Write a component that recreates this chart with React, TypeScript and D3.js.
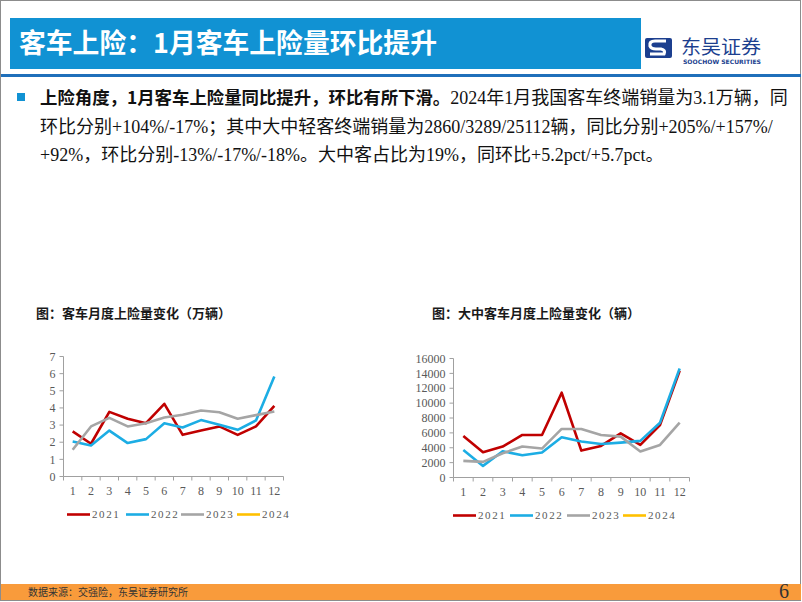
import React from "react";
import * as d3 from "d3";

// months on the x axis
const months = ["1", "2", "3", "4", "5", "6", "7", "8", "9", "10", "11", "12"];
const years = ["2021", "2022", "2023", "2024"];
const yearColors = ["#C00000", "#1CADE4", "#A5A5A5", "#FFC000"];

// 客车月度上险量（万辆）
const bus2021 = [2.63, 1.91, 3.77, 3.37, 3.11, 4.24, 2.43, 2.68, 2.92, 2.43, 2.92, 4.12];
const bus2022 = [2.04, 1.81, 2.68, 1.95, 2.18, 3.11, 2.86, 3.29, 3.02, 2.72, 3.27, 5.84];
const bus2023 = [1.56, 2.92, 3.42, 2.92, 3.11, 3.44, 3.6, 3.85, 3.75, 3.37, 3.58, 3.79];
const bus2024: number[] = [];
const busTicks = [0, 1, 2, 3, 4, 5, 6, 7];

// 大中客车月度上险量（辆）
const big2021 = [5590, 3400, 4160, 5720, 5720, 11400, 3620, 4250, 5940, 4380, 7060, 14350];
const big2022 = [3710, 1560, 3530, 2990, 3350, 5410, 4830, 4510, 4690, 4920, 7370, 14660];
const big2023 = [2230, 2100, 3260, 4160, 3890, 6530, 6530, 5720, 5500, 3490, 4380, 7370];
const big2024: number[] = [];
const bigTicks = [0, 2000, 4000, 6000, 8000, 10000, 12000, 14000, 16000];

const serif = "'Liberation Serif', 'Noto Sans CJK SC', serif";
const cjk = "'Noto Sans CJK SC', sans-serif";

type ChartProps = {
  left: number;
  right: number;
  top: number;
  bottom: number;
  series: number[][];
  ticks: number[];
  legendX: number[];
};

const LineChart = ({ left, right, top, bottom, series, ticks, legendX }: ChartProps) => {
  const x = d3.scaleBand().domain(months).range([left, right]).padding(0);
  const y = d3.scaleLinear().domain([0, ticks[ticks.length - 1]]).range([bottom, top]);
  const line = d3
    .line<number>()
    .x((_, i) => (x(months[i]) as number) + x.bandwidth() / 2)
    .y((d) => y(d));
  const axisColor = "#a0a0a0";
  const boundaries = months.map((m) => x(m) as number).concat([right]);

  return (
    <g>
      {/* y axis */}
      <line x1={left} x2={left} y1={top} y2={bottom} stroke={axisColor} />
      {ticks.map((t) => (
        <g key={t}>
          <line x1={left - 4} x2={left} y1={y(t)} y2={y(t)} stroke={axisColor} />
          <text
            x={left - 8}
            y={y(t)}
            dy="0.35em"
            textAnchor="end"
            fontFamily={serif}
            fontSize={12}
            fill="#595959"
          >
            {t}
          </text>
        </g>
      ))}
      {/* x axis */}
      <line x1={left} x2={right} y1={bottom} y2={bottom} stroke={axisColor} />
      {boundaries.map((b, i) => (
        <line key={i} x1={b} x2={b} y1={bottom} y2={bottom + 4} stroke={axisColor} />
      ))}
      {months.map((m) => (
        <text
          key={m}
          x={(x(m) as number) + x.bandwidth() / 2}
          y={bottom + 18}
          textAnchor="middle"
          fontFamily={serif}
          fontSize={12}
          fill="#595959"
        >
          {m}
        </text>
      ))}
      {/* lines */}
      {series.map((s, i) =>
        s.length > 1 ? (
          <path
            key={years[i]}
            d={line(s) || ""}
            fill="none"
            stroke={yearColors[i]}
            strokeWidth={2.6}
            strokeLinejoin="round"
          />
        ) : null
      )}
      {/* legend */}
      {years.map((yr, i) => (
        <g key={yr}>
          <line
            x1={legendX[i]}
            x2={legendX[i] + 23}
            y1={bottom + 38}
            y2={bottom + 38}
            stroke={yearColors[i]}
            strokeWidth={2.6}
          />
          <text
            x={legendX[i] + 25}
            y={bottom + 38}
            dy="0.35em"
            fontFamily={serif}
            fontSize={11}
            letterSpacing={1.6}
            fill="#595959"
          >
            {yr}
          </text>
        </g>
      ))}
    </g>
  );
};

export default function App() {
  return (
    <div style={{ position: "fixed", left: 0, top: 0 }}>
      <svg width={802} height={602} style={{ display: "block" }}>
        <rect x={0} y={0} width={802} height={602} fill="#fff" />
        <rect x={0.5} y={0.5} width={800} height={600} fill="none" stroke="#8c8c8c" />

        {/* header */}
        <rect x={10} y={18} width={631} height={51} fill="#1192d3" />
        <text
          x={19}
          y={53}
          fontFamily={cjk}
          fontWeight={700}
          fontSize={27}
          fill="#fff"
          textLength={418}
          lengthAdjust="spacingAndGlyphs"
        >
          客车上险：1月客车上险量环比提升
        </text>
        <g>
          <rect x={645} y={38} width={27} height={20} rx={2} fill="#1c3f8f" />
          <path
            d="M666,41 L655,41 Q649,41 650,46 Q651,49 656,49 L661,49 Q666,50 664,54 L650,54"
            fill="none"
            stroke="#fff"
            strokeWidth={3.2}
          />
          <text
            x={681}
            y={54}
            fontFamily={cjk}
            fontSize={19}
            fill="#1c3f8f"
            textLength={80}
            lengthAdjust="spacingAndGlyphs"
          >
            东吴证券
          </text>
          <text
            x={683}
            y={64}
            fontFamily="'DejaVu Sans', sans-serif"
            fontWeight={700}
            fontSize={6}
            fill="#1c3f8f"
            textLength={78}
            lengthAdjust="spacingAndGlyphs"
          >
            SOOCHOW SECURITIES
          </text>
        </g>
        <rect x={1} y={74} width={800} height={3} fill="#1f6fba" />

        {/* paragraph */}
        <rect x={17} y={93} width={8} height={8} fill="#1192d3" />
        <text fontFamily={serif} fontSize={18} fill="#111">
          <tspan x={40} y={104} fontFamily={cjk} fontWeight={700} fontSize={17.4}>
            上险角度，1月客车上险量同比提升，环比有所下滑。
          </tspan>
          <tspan>2024年1月我国客车终端销量为3.1万辆，同</tspan>
          <tspan x={40} y={133}>
            环比分别+104%/-17%；其中大中轻客终端销量为2860/3289/25112辆，同比分别+205%/+157%/
          </tspan>
          <tspan x={40} y={161}>
            +92%，环比分别-13%/-17%/-18%。大中客占比为19%，同环比+5.2pct/+5.7pct。
          </tspan>
        </text>

        {/* chart titles */}
        <text x={36} y={318} fontFamily={cjk} fontWeight={700} fontSize={13} fill="#1a1a1a">
          图：客车月度上险量变化（万辆）
        </text>
        <text x={432} y={318} fontFamily={cjk} fontWeight={700} fontSize={13} fill="#1a1a1a">
          图：大中客车月度上险量变化（辆）
        </text>

        <LineChart
          left={63.5}
          right={283.5}
          top={356.5}
          bottom={476.5}
          series={[bus2021, bus2022, bus2023, bus2024]}
          ticks={busTicks}
          legendX={[67, 126, 181, 237]}
        />
        <LineChart
          left={453.5}
          right={689.5}
          top={358.5}
          bottom={477.5}
          series={[big2021, big2022, big2023, big2024]}
          ticks={bigTicks}
          legendX={[453, 510, 567, 623]}
        />

        {/* footer */}
        <rect x={1} y={584} width={800} height={16} fill="#f99b3b" />
        <text x={28} y={596} fontFamily={cjk} fontSize={10} fill="#333">
          数据来源：交强险，东吴证券研究所
        </text>
        <text x={789} y={598} textAnchor="end" fontFamily={serif} fontSize={20} fill="#333">
          6
        </text>
      </svg>
    </div>
  );
}
